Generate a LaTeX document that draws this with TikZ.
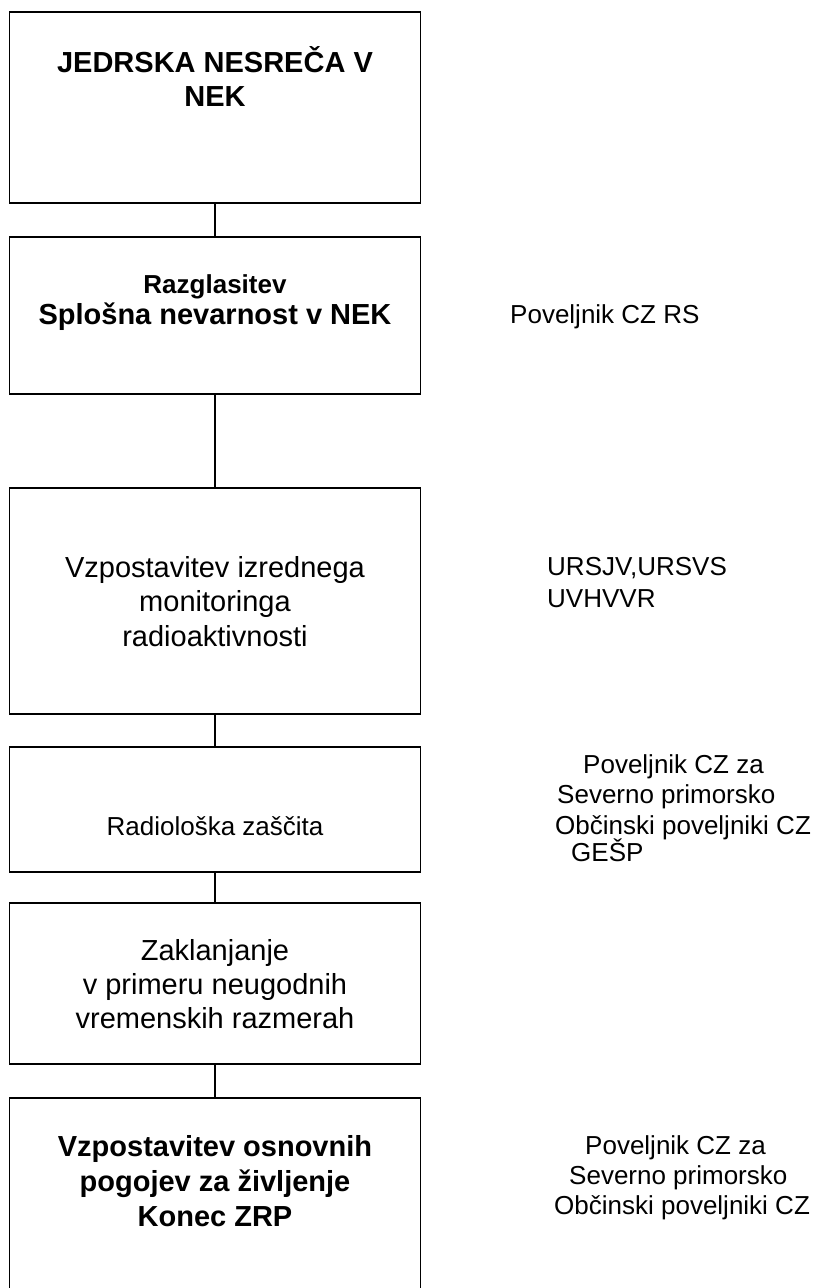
\documentclass[tikz,border=0pt]{standalone}
\usepackage{fontspec}
\setmainfont{Liberation Sans}
\begin{document}
\begin{tikzpicture}[x=1pt,y=-1pt,
  box/.style={draw, line width=1.5pt, rectangle, minimum width=411pt, inner sep=0pt},
  link/.style={line width=1.5pt},
  boxtext/.style={inner sep=0pt, anchor=base, align=center},
  big/.style={font=\fontsize{29}{34.5}\selectfont},
  bigb/.style={font=\bfseries\fontsize{29}{34}\selectfont},
  lbl/.style={inner sep=0pt, anchor=base west, font=\fontsize{26}{30}\selectfont}]
\useasboundingbox (0,0) rectangle (821,1288);
\clip (0,0) rectangle (821,1288);
% boxes
\node[box, minimum height=191pt] (b1) at (215,107.5) {};
\node[box, minimum height=157pt] (b2) at (215,315.5) {};
\node[box, minimum height=226pt] (b3) at (215,601) {};
\node[box, minimum height=125pt] (b4) at (215,809.5) {};
\node[box, minimum height=161pt] (b5) at (215,983.5) {};
\node[box, minimum height=202pt] (b6) at (215,1199) {};
% connectors
\draw[link] (b1.south) -- (b2.north);
\draw[link] (b2.south) -- (b3.north);
\draw[link] (b3.south) -- (b4.north);
\draw[link] (b4.south) -- (b5.north);
\draw[link] (b5.south) -- (b6.north);
% box texts (base anchor = baseline of the last line)
\node[boxtext, bigb] (t1) at (215,106) {JEDRSKA NESREČA V\\NEK};
\node[boxtext, font=\bfseries\fontsize{26}{31}\selectfont] (t2a) at (215,293) {Razglasitev};
\node[boxtext, bigb] (t2b) at (215,324) {Splošna nevarnost v NEK};
\node[boxtext, big] (t3) at (215,646) {Vzpostavitev izrednega\\monitoringa\\radioaktivnosti};
\node[boxtext, font=\fontsize{26}{30}\selectfont] (t4) at (215,835) {Radiološka zaščita};
\node[boxtext, font=\fontsize{29}{34}\selectfont] (t5) at (215,1028) {Zaklanjanje\\v primeru neugodnih\\vremenskih razmerah};
\node[boxtext, font=\bfseries\fontsize{29}{35}\selectfont] (t6) at (215,1226) {Vzpostavitev osnovnih\\pogojev za življenje\\Konec ZRP};
% right labels
\node[lbl] (r2) at (510,323) {Poveljnik CZ RS};
\node[lbl] (r3a) at (547,575) {URSJV,URSVS};
\node[lbl] (r3b) at (547,607) {UVHVVR};
\node[lbl] (r4a) at (583,773) {Poveljnik CZ za};
\node[lbl] (r4b) at (557,803) {Severno primorsko};
\node[lbl] (r4c) at (555,834) {Občinski poveljniki CZ};
\node[lbl] (r4d) at (571,861) {GEŠP};
\node[lbl] (r6a) at (585,1154) {Poveljnik CZ za};
\node[lbl] (r6b) at (569,1184) {Severno primorsko};
\node[lbl] (r6c) at (554,1214) {Občinski poveljniki CZ};
\end{tikzpicture}
\end{document}
